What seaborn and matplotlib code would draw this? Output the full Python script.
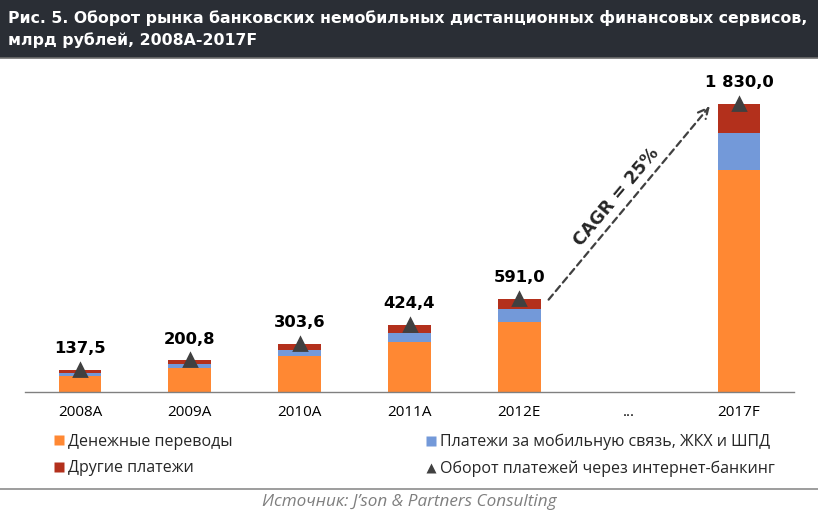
import numpy as np
import pandas as pd
import matplotlib
matplotlib.use("Agg")
import matplotlib.pyplot as plt
from matplotlib.lines import Line2D
from matplotlib.patches import Rectangle
from matplotlib.font_manager import FontProperties
import seaborn as sns

# ---- data ----
categories = ["2008A", "2009A", "2010A", "2011A", "2012E", "...", "2017F"]
transfers = [102, 150, 229, 320, 447, np.nan, 1410]      # Денежные переводы
utilities = [19, 28, 38, 55, 81, np.nan, 238]           # Платежи за мобильную связь, ЖКХ и ШПД
other = [16.5, 22.8, 36.6, 49.4, 63, np.nan, 182]        # Другие платежи
totals = [137.5, 200.8, 303.6, 424.4, 591.0, np.nan, 1830.0]  # Оборот через интернет-банкинг
total_labels = ["137,5", "200,8", "303,6", "424,4", "591,0", "", "1 830,0"]
cagr_text = "CAGR = 25%"

legend_names = ["Денежные переводы", "Другие платежи",
                "Платежи за мобильную связь, ЖКХ и ШПД",
                "Оборот платежей через интернет-банкинг"]
title_text = ("Рис. 5. Оборот рынка банковских немобильных дистанционных финансовых сервисов,\n"
              "млрд рублей, 2008A-2017F")
source_text = "Источник: J’son & Partners Consulting"

C_OR = "#FF8833"
C_BL = "#7399D9"
C_RD = "#B3301C"
C_TRI = "#404040"

sns.set_theme(style="white")
plt.rcParams["font.family"] = ["DejaVu Sans"]
NARROW = ["Open Sans", "DejaVu Sans"]


def nfp(size, style="normal"):
    return FontProperties(family=NARROW, stretch="normal", weight="normal", size=size, style=style)


df = pd.DataFrame({"cat": categories,
                   "o": transfers,
                   "ob": np.array(transfers) + np.array(utilities),
                   "obr": np.array(transfers) + np.array(utilities) + np.array(other),
                   "tot": totals})

W, H = 818, 525
fig = plt.figure(figsize=(W / 100, H / 100), dpi=100)
ax = fig.add_axes([25 / W, 1 - 392 / H, (794 - 25) / W, (392 - 70) / H])

bw = 0.39
for col, c in [("obr", C_RD), ("ob", C_BL), ("o", C_OR)]:
    sns.barplot(data=df, x="cat", y=col, order=categories, color=c, width=bw,
                saturation=1, ax=ax, errorbar=None, linewidth=0, edgecolor="none")
sns.pointplot(data=df, x="cat", y="tot", order=categories, color=C_TRI,
              marker="^", linestyle="none", markersize=9, errorbar=None, ax=ax)

ax.set_xlim(-0.5, len(categories) - 0.5)
ax.set_ylim(0, 2046)
ax.set_xlabel("")
ax.set_ylabel("")
ax.set_yticks([])
for s in ["top", "right", "left"]:
    ax.spines[s].set_visible(False)
ax.spines["bottom"].set_color("#808080")
ax.spines["bottom"].set_linewidth(1)

ax.set_xticks(np.arange(len(categories)))
ax.set_xticklabels(categories, fontproperties=nfp(11), color="black")
ax.tick_params(axis="x", which="major", length=0, pad=9.5)
ax.set_xticks(np.arange(len(categories) + 1) - 0.5, minor=True)
ax.tick_params(axis="x", which="minor", length=6, width=1, color="#808080", direction="out")

for i, (t, lab) in enumerate(zip(totals, total_labels)):
    if lab:
        ax.annotate(lab, (i, t), xytext=(0, 10), textcoords="offset points",
                    ha="center", va="bottom", fontsize=11.8, fontweight="bold", color="black")

# CAGR arrow between 2012E and 2017F
ax.annotate("", xy=(5.75, totals[6]), xytext=(4.25, totals[4] * 0.97),
            arrowprops=dict(arrowstyle="->", linestyle=(0, (3, 2)), color="#404040",
                            lw=1.6, mutation_scale=18))
ax.text(4.88, 1240, cagr_text, rotation=50, ha="center", va="center",
        fontsize=12.5, fontweight="bold", color="#262626", rotation_mode="anchor")

# title bar
fig.patches.append(Rectangle((0, 1 - 58 / H), 1, 58 / H, transform=fig.transFigure,
                             facecolor="#2A2E35", edgecolor="none", zorder=0))
fig.add_artist(Line2D([0, 1], [1 - 57.5 / H] * 2, transform=fig.transFigure,
                      color="#6E6E6E", lw=1.2))
fig.text(8 / W, 1 - 29 / H, title_text, color="white", fontsize=11.35,
         fontweight="bold", va="center", ha="left", linespacing=1.5)

# legend
def sq(c, m="s"):
    return Line2D([], [], marker=m, color="none", markerfacecolor=c,
                  markeredgecolor="none", markersize=7)

leg_kw = dict(frameon=False, prop=nfp(11.5), handlelength=0.6,
              handletextpad=0.25, labelspacing=0.65, borderpad=0, borderaxespad=0)
fig.legend([sq(C_OR), sq(C_RD)], legend_names[:2], loc="upper left",
           bbox_to_anchor=(54 / W, 1 - 434 / H), **leg_kw)
fig.legend([sq(C_BL), sq(C_TRI, "^")], legend_names[2:], loc="upper left",
           bbox_to_anchor=(426 / W, 1 - 434 / H), **leg_kw)

# source
fig.add_artist(Line2D([0, 1], [1 - 489 / H] * 2, transform=fig.transFigure,
                      color="#8C8C8C", lw=1.2))
fig.text(409 / W, 1 - 502 / H, source_text, ha="center", va="center",
         fontproperties=nfp(12.3, "italic"), color="#7F7F7F")

fig.savefig("out.png", dpi=100)
